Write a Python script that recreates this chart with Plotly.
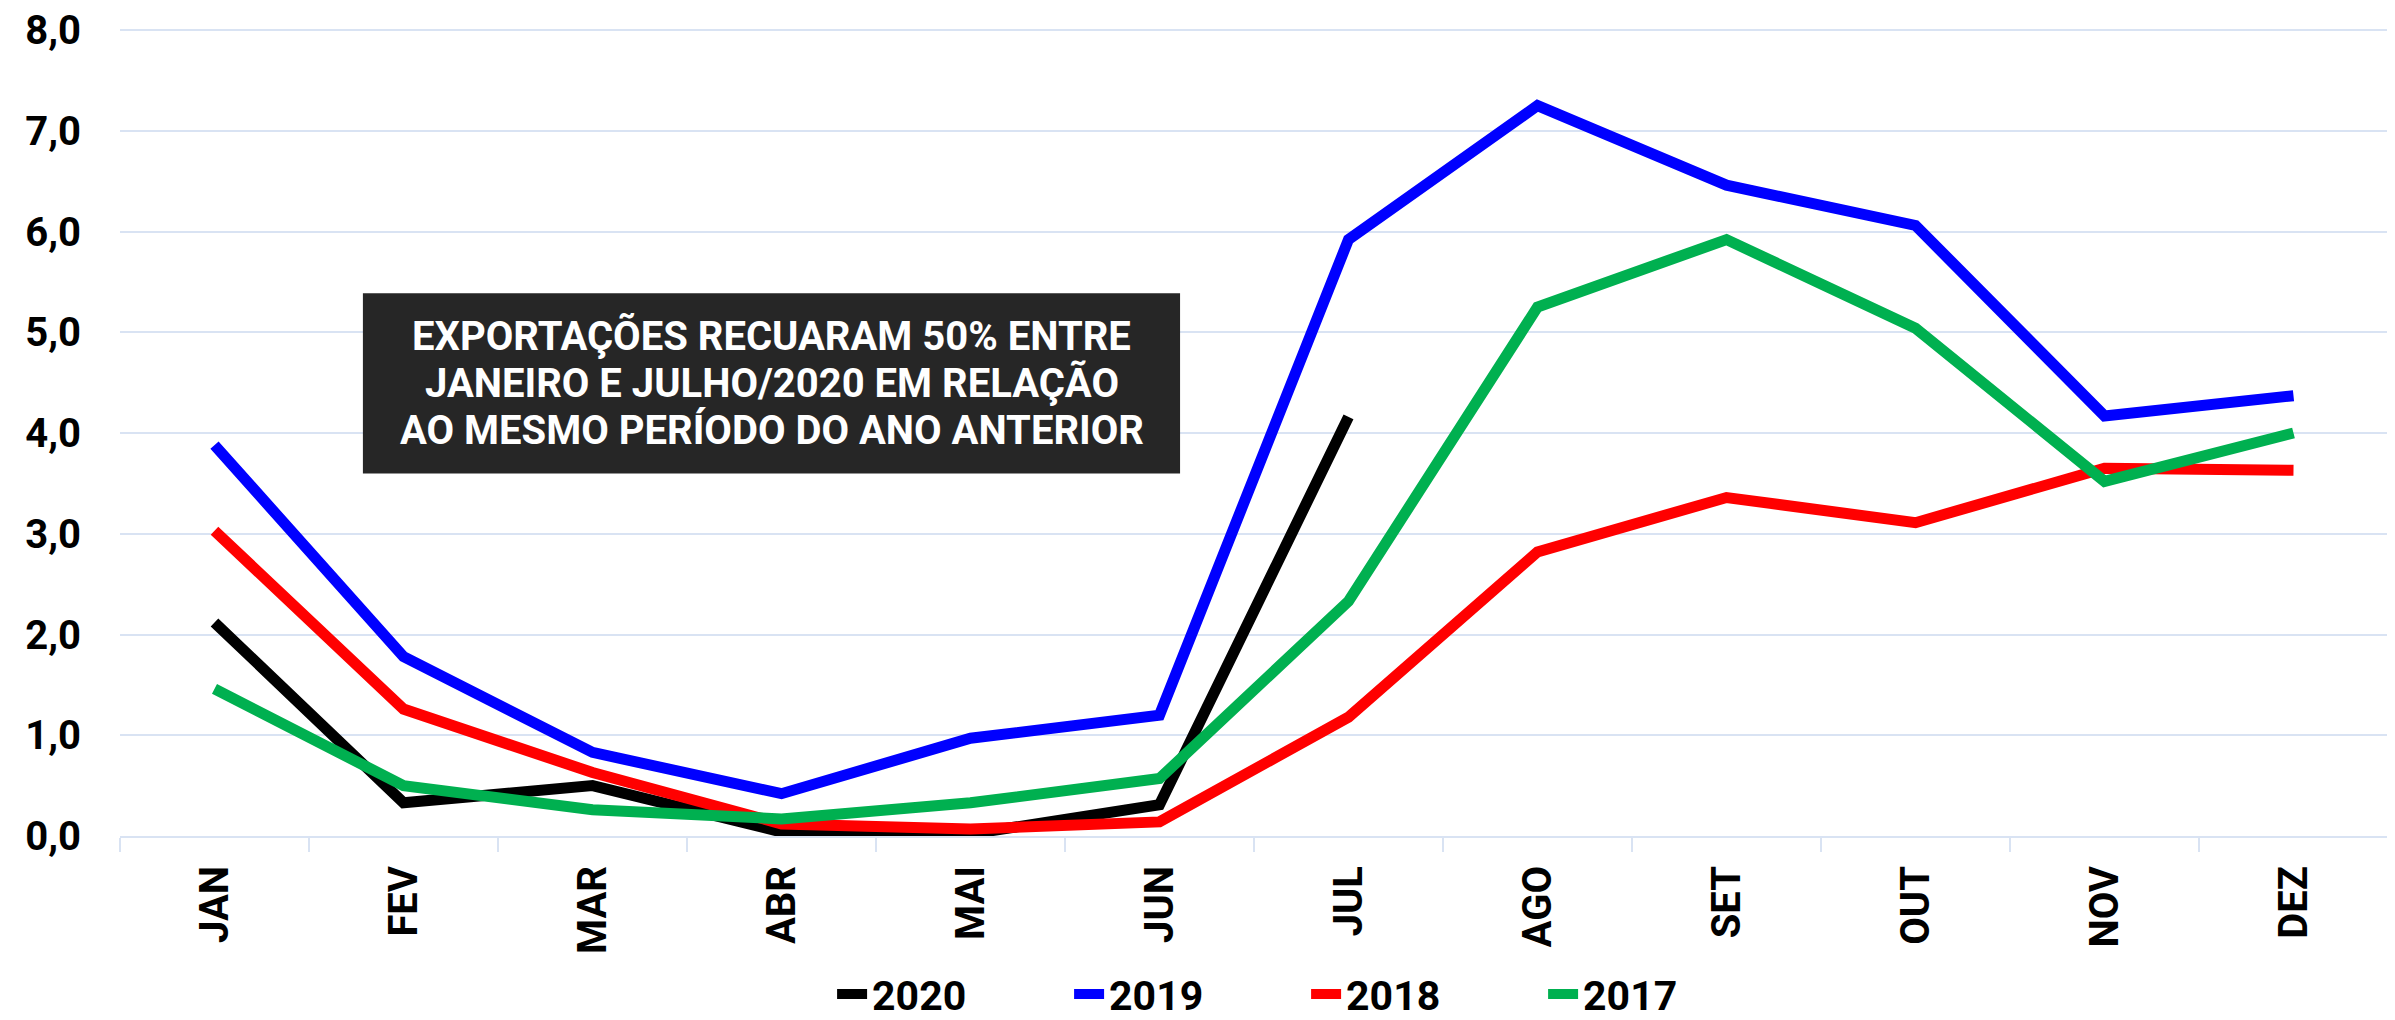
import plotly.graph_objects as go

months = ["JAN", "FEV", "MAR", "ABR", "MAI", "JUN", "JUL", "AGO", "SET", "OUT", "NOV", "DEZ"]

v2020 = [2.12, 0.33, 0.50, 0.04, 0.02, 0.31, 4.16]
v2019 = [3.88, 1.78, 0.83, 0.42, 0.97, 1.20, 5.92, 7.25, 6.46, 6.06, 4.17, 4.37]
v2018 = [3.03, 1.26, 0.63, 0.12, 0.07, 0.14, 1.18, 2.82, 3.36, 3.11, 3.65, 3.63]
v2017 = [1.46, 0.50, 0.26, 0.17, 0.33, 0.57, 2.33, 5.25, 5.92, 5.04, 3.52, 4.00]

series = [
    ("2020", v2020, "#000000"),
    ("2019", v2019, "#0000FF"),
    ("2018", v2018, "#FF0000"),
    ("2017", v2017, "#00B050"),
]

note_lines = [
    "EXPORTAÇÕES RECUARAM 50% ENTRE",
    "JANEIRO E JULHO/2020 EM RELAÇÃO",
    "AO MESMO PERÍODO DO ANO ANTERIOR",
]

grid = "#D9E3F3"
font_bold = "Roboto"

fig = go.Figure()
for name, vals, color in series:
    fig.add_trace(go.Scatter(
        x=months[:len(vals)], y=vals, name=name, mode="lines",
        line=dict(color=color, width=11),
    ))

# annotation box
fig.add_shape(type="rect", xref="paper", yref="paper",
              x0=0.1071, x1=0.4674, y0=0.4485, y1=0.6718,
              fillcolor="#262626", line=dict(width=0), layer="above")
for i, t in enumerate(note_lines):
    fig.add_annotation(xref="paper", yref="paper", x=0.2873, y=0.6185 - i * 0.0583,
                       text=t, showarrow=False, xanchor="center", yanchor="middle",
                       font=dict(family=font_bold, size=40, color="white", weight="bold"))

fig.update_layout(
    width=2395, height=1020,
    margin=dict(l=112, r=15, t=20, b=192, autoexpand=False),
    plot_bgcolor="white", paper_bgcolor="white",
    separators=",.",
    showlegend=True,
    legend=dict(orientation="h", xref="container", x=0.542, xanchor="center",
                yref="container", y=0.033, yanchor="middle",
                font=dict(family=font_bold, size=41, color="black", weight="bold"),
                entrywidth=192, entrywidthmode="pixels", itemwidth=30,
                bgcolor="rgba(0,0,0,0)"),
    xaxis=dict(
        type="category", categoryorder="array", categoryarray=months,
        range=[-0.5, 11.5], automargin=False,
        showgrid=False, showline=True, linecolor=grid, linewidth=2,
        ticks="outside", tickson="boundaries", ticklen=14, tickcolor=grid, tickwidth=2,
        tickangle=-90, ticklabelstandoff=12,
        tickfont=dict(family=font_bold, size=40, color="black", weight="bold"),
    ),
    yaxis=dict(
        range=[0, 8.02], dtick=1, tick0=0, tickformat=".1f", automargin=False,
        showgrid=True, gridcolor=grid, gridwidth=2,
        zeroline=True, zerolinecolor=grid, zerolinewidth=2,
        ticks="", ticklabelstandoff=38, ticklabeloverflow="allow",
        tickfont=dict(family=font_bold, size=40, color="black", weight="bold"),
    ),
)

fig.write_html("out.html")
